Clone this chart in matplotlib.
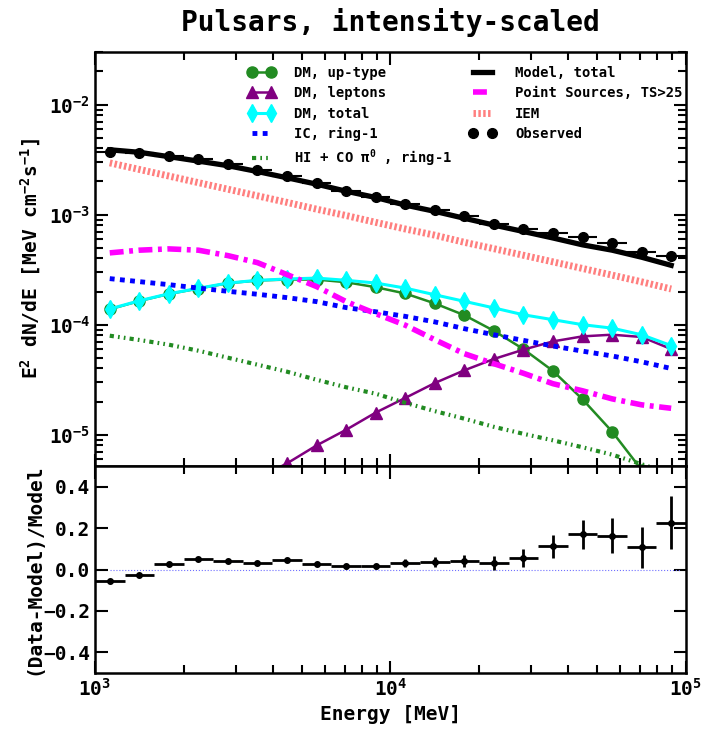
import numpy as np
import matplotlib
matplotlib.use('Agg')
import matplotlib.pyplot as plt

plt.rcParams['font.family'] = ['DejaVu Sans Mono', 'DejaVu Sans']
plt.rcParams['font.weight'] = 'bold'
plt.rcParams['mathtext.default'] = 'regular'

# energy bins [MeV]
energy = [1122, 1413, 1778, 2239, 2818, 3548, 4467, 5623, 7079, 8913,
          11220, 14125, 17783, 22387, 28184, 35481, 44668, 56234, 70795, 89125]
bin_edges = [1000, 1259, 1585, 1995, 2512, 3162, 3981, 5012, 6310, 7943, 10000,
             12589, 15849, 19953, 25119, 31623, 39811, 50119, 63096, 79433, 100000]

# E^2 dN/dE [MeV cm^-2 s^-1]
observed = [3.68e-3, 3.59e-3, 3.44e-3, 3.21e-3, 2.89e-3, 2.53e-3, 2.26e-3, 1.94e-3, 1.65e-3, 1.45e-3,
            1.26e-3, 1.11e-3, 9.65e-4, 8.28e-4, 7.41e-4, 6.82e-4, 6.22e-4, 5.53e-4, 4.54e-4, 4.24e-4]
model_total = [3.88e-3, 3.68e-3, 3.36e-3, 3.06e-3, 2.78e-3, 2.46e-3, 2.16e-3, 1.89e-3, 1.63e-3, 1.43e-3,
               1.22e-3, 1.07e-3, 9.26e-4, 8.03e-4, 7.02e-4, 6.13e-4, 5.31e-4, 4.75e-4, 4.10e-4, 3.46e-4]
iem = [2.95e-3, 2.57e-3, 2.24e-3, 1.95e-3, 1.70e-3, 1.48e-3, 1.29e-3, 1.12e-3, 9.8e-4, 8.5e-4,
       7.4e-4, 6.5e-4, 5.6e-4, 4.9e-4, 4.27e-4, 3.72e-4, 3.24e-4, 2.82e-4, 2.45e-4, 2.11e-4]
point_sources = [4.49e-4, 4.75e-4, 4.88e-4, 4.75e-4, 4.24e-4, 3.66e-4, 2.85e-4, 2.22e-4, 1.62e-4, 1.26e-4,
                 9.9e-5, 7.3e-5, 5.45e-5, 4.42e-5, 3.62e-5, 2.91e-5, 2.51e-5, 2.12e-5, 1.87e-5, 1.74e-5]
ic_ring1 = [2.62e-4, 2.46e-4, 2.31e-4, 2.15e-4, 2.01e-4, 1.89e-4, 1.76e-4, 1.62e-4, 1.43e-4, 1.31e-4,
            1.19e-4, 1.06e-4, 9.2e-5, 8.1e-5, 7.2e-5, 6.4e-5, 5.75e-5, 5.2e-5, 4.6e-5, 4.0e-5]
pi0_ring1 = [7.94e-5, 7.26e-5, 6.58e-5, 5.80e-5, 5.01e-5, 4.33e-5, 3.74e-5, 3.16e-5, 2.70e-5, 2.36e-5,
             1.95e-5, 1.64e-5, 1.40e-5, 1.18e-5, 1.02e-5, 8.9e-6, 7.7e-6, 6.6e-6, 5.4e-6, 4.4e-6]
dm_uptype = [1.38e-4, 1.64e-4, 1.90e-4, 2.13e-4, 2.38e-4, 2.52e-4, 2.57e-4, 2.57e-4, 2.43e-4, 2.19e-4,
             1.92e-4, 1.56e-4, 1.22e-4, 8.8e-5, 6.0e-5, 3.8e-5, 2.1e-5, 1.07e-5, 4.8e-6, 2.0e-6]
dm_leptons = [2.0e-7, 3.5e-7, 6.5e-7, 1.1e-6, 2.6e-6, 4.0e-6, 5.5e-6, 8.0e-6, 1.11e-5, 1.59e-5,
              2.16e-5, 2.95e-5, 3.85e-5, 4.88e-5, 5.93e-5, 7.05e-5, 7.83e-5, 8.11e-5, 7.73e-5, 6.01e-5]
dm_total = [1.39e-4, 1.65e-4, 1.91e-4, 2.14e-4, 2.39e-4, 2.53e-4, 2.60e-4, 2.65e-4, 2.53e-4, 2.39e-4,
            2.15e-4, 1.87e-4, 1.63e-4, 1.42e-4, 1.23e-4, 1.11e-4, 1.0e-4, 9.3e-5, 8.1e-5, 6.46e-5]

# (Data-Model)/Model
residual = [-0.054, -0.027, 0.027, 0.051, 0.040, 0.031, 0.047, 0.027, 0.015, 0.015,
            0.030, 0.035, 0.042, 0.031, 0.055, 0.112, 0.171, 0.163, 0.107, 0.227]
residual_err = [0.005, 0.005, 0.006, 0.007, 0.007, 0.008, 0.009, 0.010, 0.011, 0.013,
                0.020, 0.025, 0.030, 0.035, 0.045, 0.055, 0.070, 0.085, 0.100, 0.130]

e = np.array(energy)
edges = np.array(bin_edges)
xerr = [e - edges[:-1], edges[1:] - e]

fig = plt.figure(figsize=(7.12, 7.30), dpi=100)
ax = fig.add_axes([0.1334, 0.3616, 0.830, 0.5672])
axr = fig.add_axes([0.1334, 0.0781, 0.830, 0.2835], sharex=ax)

# top panel
ax.plot(e, dm_uptype, '-o', color='forestgreen', lw=1.8, ms=8, label='DM, up-type')
ax.plot(e, dm_leptons, '-^', color='purple', lw=1.8, ms=8, label='DM, leptons')
ax.plot(e, dm_total, '-d', color='cyan', lw=2.2, ms=9, label='DM, total')
ax.plot(e, ic_ring1, color='blue', lw=3.5, dashes=(1, 1.1), label='IC, ring-1')
ax.plot(e, pi0_ring1, color='forestgreen', lw=3, dashes=(1.0, 1, 0.4, 1, 0.4, 1),
        label='HI + CO π$^0$ , ring-1')
ax.plot(e, model_total, color='black', lw=3.8, label='Model, total')
ax.plot(e, point_sources, color='magenta', lw=4, dashes=(2.5, 1, 0.7, 1), label='Point Sources, TS>25')
ax.plot(e, iem, color='#ff7f7f', lw=5, dashes=(0.35, 0.35), label='IEM')
ax.errorbar(e, observed, xerr=xerr, fmt='none', ecolor='black', elinewidth=1.5)
ax.plot(e, observed, 'o', color='black', ms=7, label='Observed')

ax.set_xscale('log')
ax.set_yscale('log')
ax.set_xlim(1e3, 1e5)
ax.set_ylim(5.2e-6, 3.0e-2)
ax.set_ylabel('E$^2$ dN/dE [MeV cm$^{-2}$s$^{-1}$]', fontsize=14, fontweight='bold')
ax.set_title('Pulsars, intensity-scaled', fontsize=20, fontweight='bold', pad=15)
ax.tick_params(labelbottom=False)

ax.legend(loc='upper left', bbox_to_anchor=(0.258, 0.966), ncol=2, frameon=False,
          fontsize=10, numpoints=2, handlelength=2.0, handletextpad=1.35,
          columnspacing=1.2, labelspacing=0.45, borderpad=0, borderaxespad=0)

# residual panel
axr.axhline(0, xmin=0.025, xmax=0.99, color='#7070ff', lw=0.8, ls=':')
axr.errorbar(e, residual, xerr=xerr, yerr=residual_err, fmt='o', color='black',
             ms=4, elinewidth=2, capsize=0)
axr.set_ylim(-0.5, 0.5)
axr.set_yticks([-0.4, -0.2, 0.0, 0.2, 0.4])
axr.set_xlabel('Energy [MeV]', fontsize=14, fontweight='bold')
axr.set_ylabel('(Data-Model)/Model', fontsize=14, fontweight='bold')

for a in (ax, axr):
    a.tick_params(which='both', direction='in', top=True, right=True, labelsize=14, width=1.5)
    a.tick_params(which='major', length=9)
    a.tick_params(which='minor', length=6)
    for s in a.spines.values():
        s.set_linewidth(1.8)
axr.yaxis.set_minor_locator(matplotlib.ticker.NullLocator())

ax.yaxis.set_label_coords(-0.088, 0.5)
axr.yaxis.set_label_coords(-0.088, 0.5)

fig.savefig('out.png', dpi=100)
